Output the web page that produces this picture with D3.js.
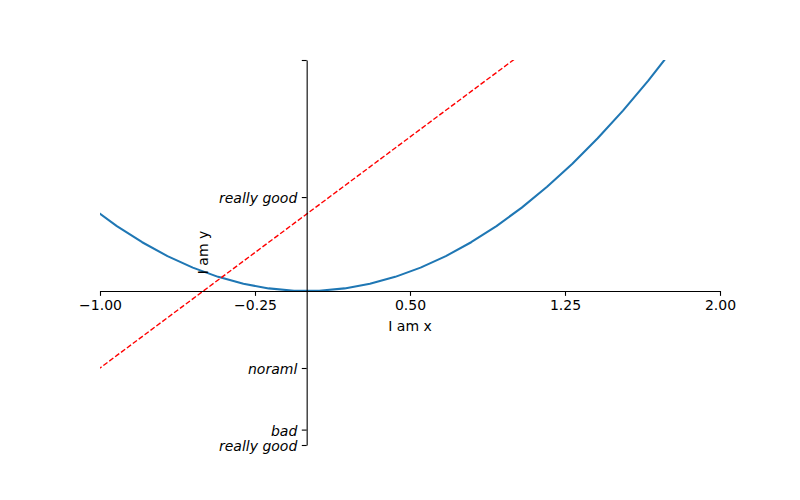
<!DOCTYPE html>
<html><head><meta charset="utf-8">
<script src="https://cdn.jsdelivr.net/npm/d3@7"></script>
<style>body{margin:0;background:#fff}svg{display:block}text{font-family:"DejaVu Sans",sans-serif;font-size:14px;fill:#000}</style>
</head><body>
<svg id="c" width="800" height="500"></svg>
<script>
// data: x sampled at linspace(-3,3,50) points within view
const xs = [-1.04082,-0.91837,-0.79592,-0.67347,-0.55102,-0.42857,-0.30612,-0.18367,-0.06122,0.06122,0.18367,0.30612,0.42857,0.55102,0.67347,0.79592,0.91837,1.04082,1.16327,1.28571,1.40816,1.53061,1.65306,1.77551,1.89796,2.02041];
const y1 = [-1.08163,-0.83673,-0.59184,-0.34694,-0.10204,0.14286,0.38776,0.63265,0.87755,1.12245,1.36735,1.61224,1.85714,2.10204,2.34694,2.59184,2.83673,3.08163,3.32653,3.57143,3.81633,4.06122,4.30612,4.55102,4.79592,5.04082];
const y2 = [1.08330,0.84340,0.63349,0.45356,0.30362,0.18367,0.09371,0.03374,0.00375,0.00375,0.03374,0.09371,0.18367,0.30362,0.45356,0.63349,0.84340,1.08330,1.35320,1.65306,1.98292,2.34277,2.73261,3.15244,3.60225,4.08205];
const xTicks = [-1, -0.25, 0.5, 1.25, 2];
const xTickLabels = ["\u22121.00", "\u22120.25", "0.50", "1.25", "2.00"];
const yTicks = [-2, -1.8, -1, 1.22, 3];
const yTickLabels = ["really good", "bad", "noraml", "really good", ""];

const svg = d3.select("#c");
const L = 100, R = 720, T = 60, B = 445;
const x = d3.scaleLinear().domain([-1, 2]).range([L, R]);
const y = d3.scaleLinear().domain([-2, 3]).range([B, T]);

svg.append("defs").append("clipPath").attr("id", "clip")
  .append("rect").attr("x", L).attr("y", T).attr("width", R - L).attr("height", B - T);

const pts1 = xs.map((d, i) => [d, y1[i]]);
const pts2 = xs.map((d, i) => [d, y2[i]]);
const line = d3.line().x(d => x(d[0])).y(d => y(d[1]));

const g = svg.append("g").attr("clip-path", "url(#clip)");
g.append("path").attr("d", line(pts2)).attr("fill", "none")
  .attr("stroke", "#1f77b4").attr("stroke-width", 2.08).attr("stroke-linecap", "square").attr("stroke-linejoin","round");
g.append("path").attr("d", line(pts1)).attr("fill", "none")
  .attr("stroke", "red").attr("stroke-width", 1.39).attr("stroke-dasharray", "5.13,2.22");

// x axis at y=0
const xAxis = d3.axisBottom(x).tickValues(xTicks).tickFormat((d, i) => xTickLabels[i])
  .tickSize(4.86).tickPadding(4.5).tickSizeOuter(0);
const gx = svg.append("g").attr("transform", `translate(0,${y(0)})`).call(xAxis);
gx.select(".domain").attr("stroke", "#000").attr("stroke-width", 1.1);
gx.selectAll(".tick line").attr("stroke", "#000").attr("stroke-width", 1.1);
gx.selectAll(".tick text").attr("dy", "0.72em");
gx.attr("font-size", null).attr("font-family", null);

// y axis at x=0
const yAxis = d3.axisLeft(y).tickValues(yTicks).tickFormat((d, i) => yTickLabels[i])
  .tickSize(4.86).tickPadding(4.5).tickSizeOuter(0);
const gy = svg.append("g").attr("transform", `translate(${x(0)},0)`).call(yAxis);
gy.select(".domain").attr("stroke", "#000").attr("stroke-width", 1.1);
gy.selectAll(".tick line").attr("stroke", "#000").attr("stroke-width", 1.1);
gy.selectAll(".tick text").style("font-style", "italic").attr("dy", "0.4em");
gy.attr("font-size", null).attr("font-family", null);

svg.append("text").attr("x", (L + R) / 2).attr("y", 331).attr("text-anchor", "middle").text("I am x");
svg.append("text").attr("transform", `translate(208,${(T + B) / 2}) rotate(-90)`)
  .attr("text-anchor", "middle").text("I am y");
</script>
</body></html>
